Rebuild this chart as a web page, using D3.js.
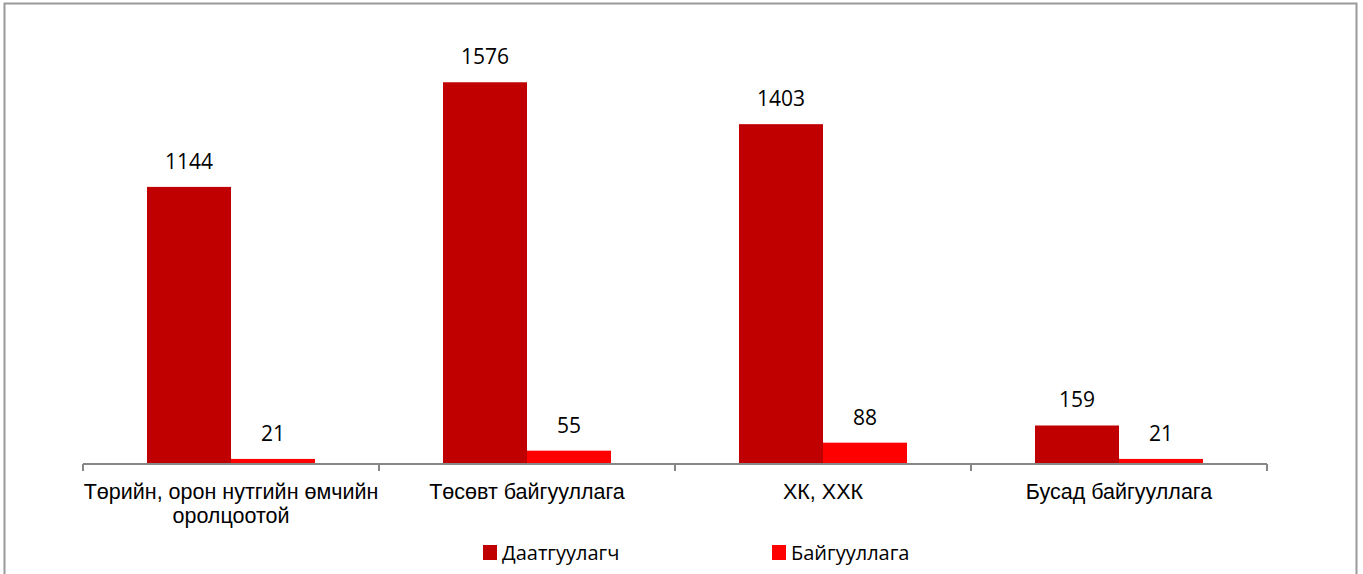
<!DOCTYPE html>
<html>
<head>
<meta charset="utf-8">
<script src="https://cdn.jsdelivr.net/npm/d3@7"></script>
<style>
  html, body { margin: 0; padding: 0; background: #fff; }
  svg { display: block; }
</style>
</head>
<body>
<div id="chart"></div>
<script>
// Data
const categories = ['Төрийн, орон нутгийн өмчийн оролцоотой', 'Төсөвт байгууллага', 'ХК, ХХК', 'Бусад байгууллага'];
const seriesNames = ['Даатгуулагч', 'Байгууллага'];
const insured = [1144, 1576, 1403, 159];
const organizations = [21, 55, 88, 21];
const colors = ['#C00000', '#FF0000'];

const W = 1363, H = 574;
const rows = categories.map((c, i) => ({cat: c, values: [insured[i], organizations[i]]}));

const svg = d3.select('#chart').append('svg')
    .attr('width', W)
    .attr('height', H);

// Outer frame
svg.append('rect')
    .attr('x', 4.5).attr('y', 3.5)
    .attr('width', 1352).attr('height', 580)
    .attr('fill', 'none')
    .attr('stroke', '#9a9a9a')
    .attr('stroke-width', 2);

// Scales
const x = d3.scaleBand()
    .domain(categories)
    .range([83, 1267])
    .padding(0);

const x1 = d3.scaleBand()
    .domain(d3.range(seriesNames.length))
    .range([64, 232]);

const y = d3.scaleLinear()
    .domain([0, 1800])
    .range([464, 28]);

// Bars
const groups = svg.selectAll('.grp')
    .data(rows)
    .enter().append('g')
    .attr('class', 'grp')
    .attr('transform', d => 'translate(' + x(d.cat) + ',0)');

groups.selectAll('rect')
    .data(d => d.values)
    .enter().append('rect')
    .attr('x', (d, i) => x1(i))
    .attr('width', x1.bandwidth())
    .attr('y', d => y(d))
    .attr('height', d => y(0) - y(d))
    .attr('fill', (d, i) => colors[i]);

// Value labels
groups.selectAll('text')
    .data(d => d.values)
    .enter().append('text')
    .attr('x', (d, i) => x1(i) + x1.bandwidth() / 2)
    .attr('y', d => y(d) - 18)
    .attr('text-anchor', 'middle')
    .attr('font-family', 'Open Sans, sans-serif')
    .attr('font-size', 21)
    .attr('fill', '#000')
    .text(d => d);

// X axis
const ax = svg.append('g').attr('transform', 'translate(0,' + y(0) + ')');
ax.append('line')
    .attr('x1', x.range()[0]).attr('x2', x.range()[1])
    .attr('stroke', '#878787').attr('stroke-width', 2);
const tickPos = categories.map(c => x(c)).concat([x.range()[1]]);
ax.selectAll('.tick')
    .data(tickPos)
    .enter().append('line')
    .attr('x1', d => d).attr('x2', d => d)
    .attr('y1', 0).attr('y2', 7)
    .attr('stroke', '#878787').attr('stroke-width', 2);

// Category labels (wrapped)
function wrap(text, width) {
    text.each(function() {
        const t = d3.select(this);
        const words = t.text().split(/\s+/);
        const xx = t.attr('x');
        t.text(null);
        let line = [];
        let tspan = t.append('tspan').attr('x', xx).attr('dy', 0);
        words.forEach(w => {
            line.push(w);
            tspan.text(line.join(' '));
            if (tspan.node().getComputedTextLength() > width && line.length > 1) {
                line.pop();
                tspan.text(line.join(' '));
                line = [w];
                tspan = t.append('tspan').attr('x', xx).attr('dy', 24).text(w);
            }
        });
    });
}

svg.selectAll('.catlabel')
    .data(categories)
    .enter().append('text')
    .attr('class', 'catlabel')
    .attr('x', d => x(d) + x.bandwidth() / 2)
    .attr('y', 499)
    .attr('text-anchor', 'middle')
    .attr('font-family', 'Liberation Sans, Arial, sans-serif')
    .attr('font-size', 21.5)
    .attr('fill', '#000')
    .text(d => d)
    .call(wrap, 330);

// Legend
const legX = [483, 772];
const leg = svg.selectAll('.leg')
    .data(seriesNames)
    .enter().append('g')
    .attr('class', 'leg')
    .attr('transform', (d, i) => 'translate(' + legX[i] + ',545)');
leg.append('rect')
    .attr('width', 14).attr('height', 15)
    .attr('fill', (d, i) => colors[i]);
leg.append('text')
    .attr('x', 19).attr('y', 15)
    .attr('font-family', 'Open Sans, sans-serif')
    .attr('font-size', 20)
    .attr('fill', '#000')
    .text(d => d);
</script>
</body>
</html>
